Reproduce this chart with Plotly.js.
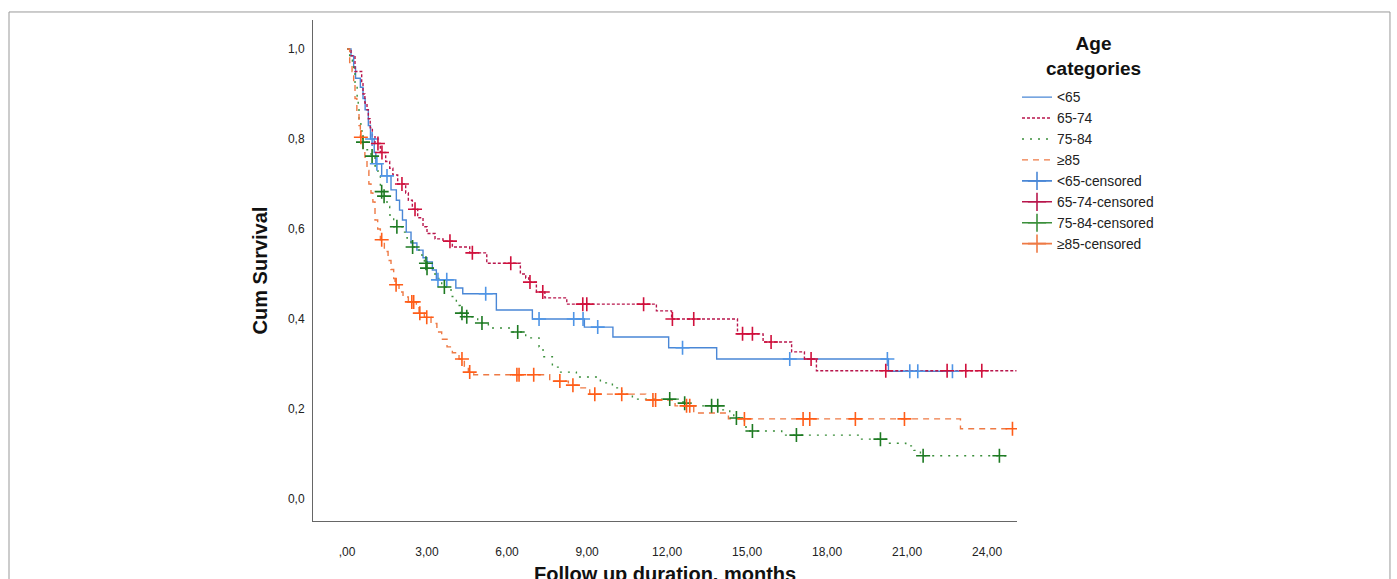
<!DOCTYPE html>
<html>
<head>
<meta charset="utf-8">
<script src="https://cdn.plot.ly/plotly-3.0.1.min.js"></script>
<style>html,body{margin:0;padding:0;background:#fff;}#chart{width:1397px;height:579px;}</style>
</head>
<body>
<div id="chart"></div>
<script>
// ---- Data ----
const groups = ["<65", "65-74", "75-84", "≥85"];

// <65
const t_lt65 = [0,0.15,0.25,0.32,0.5,0.6,0.68,0.8,0.88,1.02,1.08,1.3,1.65,1.85,1.97,2.08,2.22,2.4,2.62,2.85,3.0,3.2,3.35,4.08,4.34,5.6,6.95,8.9,9.97,12.06,13.86,20.3,22.7];
const s_lt65 = [1,0.985,0.96,0.935,0.915,0.89,0.865,0.83,0.80,0.77,0.745,0.718,0.687,0.664,0.642,0.62,0.593,0.569,0.553,0.536,0.527,0.509,0.487,0.469,0.456,0.42,0.40,0.382,0.36,0.336,0.311,0.284,0.284];
const c_lt65 = [0.94,1.12,1.5,3.41,3.74,5.2,7.2,8.5,8.85,9.4,12.58,16.6,20.26,21.1,21.4,22.7];

// 65-74
const t_6574 = [0,0.15,0.3,0.55,0.6,0.67,0.75,0.8,0.87,0.95,1.05,1.25,1.45,1.6,1.72,1.9,2.2,2.3,2.45,2.65,2.85,3.0,3.3,3.6,3.95,4.6,5.24,6.5,6.7,6.82,7.1,7.42,8.24,11.6,12.17,14.64,15.6,16.67,17.15,17.6,25.1];
const s_6574 = [1,0.985,0.95,0.925,0.9,0.88,0.865,0.845,0.825,0.805,0.79,0.77,0.75,0.735,0.72,0.70,0.68,0.664,0.644,0.625,0.605,0.59,0.578,0.573,0.56,0.547,0.524,0.5,0.491,0.482,0.46,0.447,0.433,0.418,0.40,0.367,0.349,0.327,0.311,0.285,0.285];
const c_6574 = [1.16,1.31,2.06,2.55,3.86,4.7,6.14,6.86,7.34,8.84,8.99,11.12,12.2,13.0,14.83,15.2,15.9,17.4,20.2,22.5,23.2,23.8];

// 75-84
const t_7584 = [0,0.1,0.2,0.25,0.3,0.38,0.42,0.45,0.52,0.56,0.59,0.75,0.9,1.05,1.16,1.25,1.35,1.5,1.6,1.75,2.1,2.25,2.4,2.7,2.8,2.9,2.98,3.3,3.55,3.9,4.1,4.25,4.4,4.9,5.3,6.2,6.7,7.2,7.35,7.7,7.95,8.6,9.5,9.95,10.3,10.7,12.6,12.7,14.0,14.35,14.5,14.9,15.1,16.3,19.2,20.3,20.95,21.25,21.5,24.9];
const s_7584 = [1,0.975,0.96,0.945,0.92,0.89,0.865,0.84,0.825,0.805,0.793,0.776,0.762,0.74,0.72,0.683,0.673,0.65,0.631,0.605,0.593,0.58,0.56,0.55,0.542,0.524,0.513,0.49,0.471,0.45,0.43,0.413,0.405,0.391,0.38,0.371,0.358,0.338,0.316,0.293,0.282,0.271,0.258,0.247,0.233,0.222,0.213,0.207,0.198,0.191,0.18,0.16,0.151,0.142,0.133,0.124,0.118,0.108,0.096,0.096];
const c_7584 = [0.6,0.94,1.3,1.39,1.87,2.46,2.96,3.0,3.65,4.31,4.49,5.06,6.4,12.1,12.66,13.67,13.9,14.6,15.2,16.85,20.0,21.6,24.46];

// >=85
const t_ge85 = [0,0.1,0.19,0.25,0.3,0.37,0.45,0.5,0.6,0.67,0.75,0.82,0.9,0.97,1.05,1.15,1.25,1.4,1.54,1.65,1.75,1.8,1.95,2.1,2.3,2.6,2.7,2.9,3.15,3.37,3.55,3.75,3.95,4.2,4.4,4.55,4.75,7.6,8.3,8.7,9.1,11.2,12.3,13.0,14.3,23.0,24.95];
const s_ge85 = [1,0.97,0.95,0.92,0.89,0.86,0.83,0.804,0.78,0.76,0.73,0.70,0.68,0.66,0.62,0.6,0.576,0.55,0.53,0.51,0.49,0.476,0.46,0.449,0.438,0.425,0.413,0.404,0.39,0.371,0.355,0.338,0.325,0.311,0.295,0.282,0.276,0.262,0.253,0.247,0.233,0.22,0.207,0.191,0.178,0.156,0.156];
const c_ge85 = [0.52,1.3,1.84,2.43,2.5,2.73,2.99,4.31,4.6,6.37,6.45,7.0,7.98,8.47,9.29,10.3,11.47,11.57,12.73,12.85,14.9,17.1,17.35,19.06,20.9,24.95];

const xTickVals = [0,3,6,9,12,15,18,21,24];
const xTickText = [",00","3,00","6,00","9,00","12,00","15,00","18,00","21,00","24,00"];
const yTickVals = [0,0.2,0.4,0.6,0.8,1.0];
const yTickText = ["0,0","0,2","0,4","0,6","0,8","1,0"];

// ---- Styles ----
const lineColors = ["#4a87d6", "#b8164c", "#3b8f3b", "#ee7a45"];
const markColors = ["#4f95e6", "#d0103c", "#1d7a22", "#ff5d18"];
const dashes = ["solid", "3px,2px", "2px,6px", "6px,5px"];

const series = [
  [t_lt65, s_lt65, c_lt65],
  [t_6574, s_6574, c_6574],
  [t_7584, s_7584, c_7584],
  [t_ge85, s_ge85, c_ge85]
];

function survAt(ts, ss, t) {
  let v = ss[0];
  for (let i = 0; i < ts.length; i++) { if (ts[i] <= t) v = ss[i]; }
  return v;
}

const traces = [];
series.forEach((s, i) => {
  traces.push({
    x: s[0], y: s[1], type: "scatter", mode: "lines", name: groups[i],
    line: {shape: "hv", color: lineColors[i], width: 1.4, dash: dashes[i]},
    legendrank: i + 1, hoverinfo: "skip"
  });
});
series.forEach((s, i) => {
  traces.push({
    x: s[2], y: s[2].map(t => survAt(s[0], s[1], t)), type: "scatter", mode: "markers",
    showlegend: false,
    marker: {symbol: "cross-thin-open", size: 10, line: {color: markColors[i], width: 1.6}, color: markColors[i]},
    hoverinfo: "skip"
  });
  // legend entry for censored
  traces.push({
    x: [null], y: [null], type: "scatter", mode: "lines+markers", name: groups[i] + "-censored",
    line: {color: lineColors[i], width: 1.6},
    marker: {symbol: "cross-thin-open", size: 13, line: {color: markColors[i], width: 1.6}},
    legendrank: 10 + i
  });
});

const font = "Arial, 'Liberation Sans', sans-serif";
const layout = {
  width: 1397, height: 579,
  margin: {l: 313, r: 380, t: 20, b: 58},
  paper_bgcolor: "#fff", plot_bgcolor: "#fff",
  font: {family: font, color: "#222", size: 12},
  showlegend: true,
  legend: {
    x: 1.0, xanchor: "left", y: 0.877, yanchor: "top",
    font: {family: font, size: 13.8, color: "#222"},
    tracegroupgap: 0, traceorder: "normal",
    bgcolor: "rgba(0,0,0,0)"
  },
  xaxis: {
    range: [-1.275, 25.12], showgrid: false, zeroline: false,
    showline: true, linecolor: "#666", linewidth: 1,
    tickvals: xTickVals, ticktext: xTickText,
    ticks: "outside", ticklen: 20, tickcolor: "rgba(0,0,0,0)",
    tickfont: {family: font, size: 12, color: "#222"}
  },
  yaxis: {
    range: [-0.0489, 1.0644], showgrid: false, zeroline: false,
    showline: true, linecolor: "#666", linewidth: 1,
    tickvals: yTickVals, ticktext: yTickText,
    ticks: "outside", ticklen: 5, tickcolor: "rgba(0,0,0,0)",
    tickfont: {family: font, size: 12, color: "#222"},
    title: {text: "Cum Survival", font: {family: font, size: 20, color: "#111", weight: "bold"}, standoff: 14}
  },
  annotations: [{
    xref: "paper", yref: "paper", x: 1.108, y: 0.928, xanchor: "center", yanchor: "middle",
    text: "<b>Age<br>categories</b>", showarrow: false,
    font: {family: font, size: 19, color: "#111"}
  }, {
    xref: "paper", yref: "paper", x: 0.5, y: -0.106, xanchor: "center", yanchor: "middle",
    text: "<b>Follow up duration, months</b>", showarrow: false,
    font: {family: font, size: 20, color: "#111"}
  }],
  shapes: [{
    type: "path", xref: "paper", yref: "paper",
    path: "M -0.4318 -0.2 L -0.4318 1.016 L 1.5298 1.016 L 1.5298 -0.2",
    line: {color: "#999", width: 1}
  }]
};

Plotly.newPlot("chart", traces, layout, {displayModeBar: false, staticPlot: true});
</script>
</body>
</html>
